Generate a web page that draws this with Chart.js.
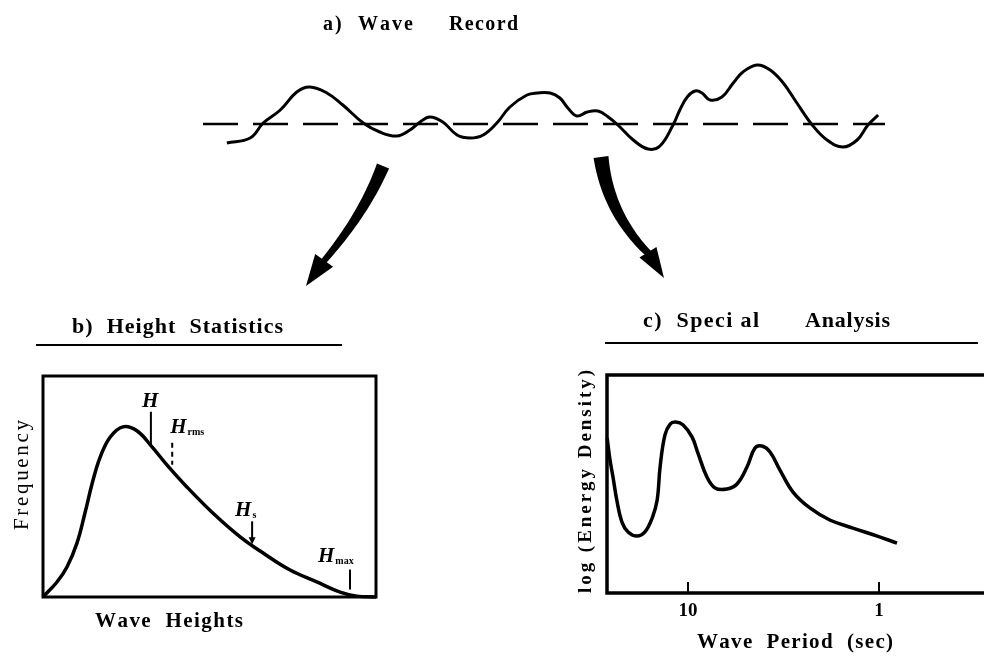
<!DOCTYPE html>
<html>
<head>
<meta charset="utf-8">
<title>Wave record, height statistics and spectral analysis</title>
<script src="https://cdn.jsdelivr.net/npm/chart.js@4/dist/chart.umd.min.js"></script>
<style>
  html, body { margin: 0; padding: 0; background: #fff; overflow: hidden; }
  body { width: 984px; height: 657px; position: relative; }
  canvas { position: absolute; }
  #waveCanvas { left: 0; top: 0; }
  #heightCanvas { left: 0; top: 300px; }
  #spectrumCanvas { left: 560px; top: 300px; }
</style>
</head>
<body>
<canvas id="waveCanvas" width="984" height="300"></canvas>
<canvas id="heightCanvas" width="400" height="340"></canvas>
<canvas id="spectrumCanvas" width="424" height="357"></canvas>
<script>
// a) wave record: time (s) and surface elevation (m)
const waveTime = [4.2, 8.3, 10.6, 13.6, 16.5, 18.8, 21.8, 24.6, 28.2, 31.1, 34.1, 36.4, 38.2, 39.9, 42.2, 44.7, 47.0, 49.3, 51.7, 54.0, 57.0, 58.8, 61.1, 62.8, 64.2, 65.8, 67.6, 69.5, 71.3, 73.0, 75.7, 78.3, 80.4, 82.7, 83.9, 85.2, 86.6, 87.8, 89.2, 91.3, 93.3, 95.0, 97.5, 99.8, 102.1, 104.5, 107.2, 109.8, 112.6, 115.1, 117.0, 118.8];
const waveElevation = [-0.95, -0.70, 0.05, 0.70, 1.60, 1.85, 1.55, 0.95, 0.05, -0.40, -0.60, -0.30, 0.10, 0.35, 0.10, -0.55, -0.70, -0.55, 0.05, 0.85, 1.45, 1.55, 1.55, 1.30, 0.80, 0.40, 0.60, 0.65, 0.35, -0.05, -0.80, -1.25, -1.10, -0.05, 0.70, 1.35, 1.65, 1.55, 1.20, 1.35, 2.05, 2.60, 2.95, 2.70, 2.05, 1.05, -0.05, -0.80, -1.15, -0.80, -0.05, 0.45];
const recordSpan = [0, 120];
const meanLevel = 0;

// b) height statistics: wave height and frequency of occurrence
const waveHeights = [0, 0.21, 0.36, 0.51, 0.63, 0.74, 0.86, 1.01, 1.20, 1.41, 1.64, 1.86, 2.16, 2.55, 2.96, 3.30, 3.71, 4.11, 4.46, 4.71, 5.0];
const heightFrequency = [0, 0.034, 0.068, 0.122, 0.190, 0.258, 0.317, 0.362, 0.385, 0.376, 0.339, 0.299, 0.249, 0.190, 0.136, 0.100, 0.061, 0.034, 0.011, 0.002, 0];
const statNames = ['H', 'H', 'H', 'H'];
const statSubscripts = ['', 'rms', 's', 'max'];
const statHeights = [1.62, 1.94, 3.14, 4.61];

// c) spectral analysis: wave period (s) and log of energy density
const wavePeriod = [26.5, 25.6, 24.7, 23.6, 22.2, 20.6, 18.5, 16.8, 15.4, 14.5, 14.0, 13.2, 12.4, 11.6, 10.6, 9.53, 8.87, 7.96, 7.22, 6.25, 5.54, 4.91, 4.46, 4.10, 3.72, 3.30, 2.82, 2.30, 1.81, 1.37, 1.02, 0.805];
const logEnergy = [7.11, 6.10, 5.32, 4.27, 3.26, 2.80, 2.61, 2.80, 3.44, 4.27, 5.78, 7.25, 7.75, 7.84, 7.71, 7.16, 6.42, 5.32, 4.82, 4.77, 5.00, 5.78, 6.65, 6.74, 6.47, 5.64, 4.63, 3.90, 3.35, 2.98, 2.61, 2.29];
const periodTicks = [10, 1];

const serif = '"Liberation Serif", "DejaVu Serif", serif';

// text stretched between x0 and x1 (the scan has loose letter spacing)
function spacedText(ctx, text, x0, x1, y, font) {
    ctx.save();
    ctx.font = font;
    ctx.fillStyle = '#000';
    ctx.textAlign = 'left';
    ctx.textBaseline = 'alphabetic';
    const chars = [...text];
    const widths = chars.map(c => ctx.measureText(c).width);
    const total = widths.reduce((a, b) => a + b, 0);
    const gap = chars.length > 1 ? ((x1 - x0) - total) / (chars.length - 1) : 0;
    let x = x0;
    chars.forEach((c, i) => {
        ctx.fillText(c, x, y);
        x += widths[i] + gap;
    });
    ctx.restore();
}

// same, reading bottom to top
function spacedTextUp(ctx, text, baseX, yBottom, yTop, font) {
    ctx.save();
    ctx.translate(baseX, yBottom);
    ctx.rotate(-Math.PI / 2);
    spacedText(ctx, text, 0, yBottom - yTop, 0, font);
    ctx.restore();
}

function hLine(ctx, x0, x1, y, w) {
    ctx.save();
    ctx.strokeStyle = '#000';
    ctx.lineWidth = w;
    ctx.beginPath();
    ctx.moveTo(x0, y);
    ctx.lineTo(x1, y);
    ctx.stroke();
    ctx.restore();
}

function drawFrame(chart, sides, w) {
    const { left, top, right, bottom } = chart.chartArea;
    const ctx = chart.ctx;
    ctx.save();
    ctx.strokeStyle = '#000';
    ctx.lineWidth = w;
    ctx.lineCap = 'square';
    ctx.beginPath();
    if (sides.includes('top')) { ctx.moveTo(left, top); ctx.lineTo(right, top); }
    if (sides.includes('right')) { ctx.moveTo(right, top); ctx.lineTo(right, bottom); }
    if (sides.includes('bottom')) { ctx.moveTo(left, bottom); ctx.lineTo(right, bottom); }
    if (sides.includes('left')) { ctx.moveTo(left, top); ctx.lineTo(left, bottom); }
    ctx.stroke();
    ctx.restore();
}

// tapered, slightly bent arrow (quadratic centre line + triangular head)
function drawBentArrow(ctx, a) {
    const n = 30, l = [], r = [];
    for (let i = 0; i <= n; i++) {
        const t = i / n, u = 1 - t;
        const x = u * u * a.start[0] + 2 * u * t * a.ctrl[0] + t * t * a.end[0];
        const y = u * u * a.start[1] + 2 * u * t * a.ctrl[1] + t * t * a.end[1];
        const dx = 2 * u * (a.ctrl[0] - a.start[0]) + 2 * t * (a.end[0] - a.ctrl[0]);
        const dy = 2 * u * (a.ctrl[1] - a.start[1]) + 2 * t * (a.end[1] - a.ctrl[1]);
        const len = Math.hypot(dx, dy);
        const hw = (a.w0 + (a.w1 - a.w0) * t) / 2;
        l.push([x - dy / len * hw, y + dx / len * hw]);
        r.push([x + dy / len * hw, y - dx / len * hw]);
    }
    ctx.save();
    ctx.fillStyle = '#000';
    ctx.beginPath();
    l.forEach((p, i) => i ? ctx.lineTo(p[0], p[1]) : ctx.moveTo(p[0], p[1]));
    r.reverse().forEach(p => ctx.lineTo(p[0], p[1]));
    ctx.closePath();
    ctx.fill();
    const [ex, ey] = a.end, [tx, ty] = a.tip;
    const hl = Math.hypot(tx - ex, ty - ey);
    const ux = (tx - ex) / hl, uy = (ty - ey) / hl;
    ctx.beginPath();
    ctx.moveTo(tx, ty);
    ctx.lineTo(ex - uy * a.head - ux * 2, ey + ux * a.head - uy * 2);
    ctx.lineTo(ex + uy * a.head - ux * 2, ey - ux * a.head - uy * 2);
    ctx.closePath();
    ctx.fill();
    ctx.restore();
}

function frequencyAt(h) {
    for (let i = 1; i < waveHeights.length; i++) {
        if (h <= waveHeights[i]) {
            const t = (h - waveHeights[i - 1]) / (waveHeights[i] - waveHeights[i - 1]);
            return heightFrequency[i - 1] + t * (heightFrequency[i] - heightFrequency[i - 1]);
        }
    }
    return 0;
}

const baseOptions = {
    responsive: false,
    animation: false,
    events: [],
    plugins: { legend: { display: false }, tooltip: { enabled: false } }
};

// ---- a) Wave Record ----
const waveDecor = {
    id: 'waveDecor',
    afterDraw(chart) {
        const ctx = chart.ctx;
        spacedText(ctx, 'a)  Wave', 323, 413, 30, `bold 20px ${serif}`);
        spacedText(ctx, 'Record', 449, 518, 30, `bold 20px ${serif}`);
        drawBentArrow(ctx, { start: [383, 166], ctrl: [364, 214], end: [323, 262], tip: [306, 286], w0: 13, w1: 6, head: 11 });
        drawBentArrow(ctx, { start: [601, 157], ctrl: [608, 214], end: [649, 254], tip: [664, 278], w0: 15, w1: 7, head: 10 });
    }
};

new Chart(document.getElementById('waveCanvas'), {
    type: 'line',
    data: {
        datasets: [
            {
                data: waveTime.map((t, i) => ({ x: t, y: waveElevation[i] })),
                borderColor: '#000',
                borderWidth: 3,
                pointRadius: 0,
                tension: 0.4,
                clip: false
            },
            {
                data: recordSpan.map(t => ({ x: t, y: meanLevel })),
                borderColor: '#000',
                borderWidth: 2.5,
                borderDash: [35, 15],
                pointRadius: 0,
                clip: false
            }
        ]
    },
    options: {
        ...baseOptions,
        layout: { padding: { left: 203, right: 99, top: 54, bottom: 136 }, autoPadding: false },
        scales: {
            x: { type: 'linear', display: false, min: recordSpan[0], max: recordSpan[1] },
            y: { display: false, min: -2, max: 3.5 }
        }
    },
    plugins: [waveDecor]
});

// ---- b) Height Statistics ----
const markerStyle = [
    { top: 34, bottom: 0, dx: -9, gap: 5, dash: [] },
    { top: 28, bottom: 6, dx: -2, gap: 10, dash: [5, 4] },
    { top: 24, bottom: 1, dx: -17, gap: 5, dash: [], arrow: true },
    { top: 25, bottom: 5, dx: -32, gap: 8, dash: [] }
];

const heightDecor = {
    id: 'heightDecor',
    afterDraw(chart) {
        const ctx = chart.ctx;
        const xs = chart.scales.x, ys = chart.scales.y;
        drawFrame(chart, ['top', 'right', 'bottom', 'left'], 3);
        spacedText(ctx, 'b)  Height  Statistics', 72, 283, 33, `bold 22px ${serif}`);
        hLine(ctx, 36, 342, 45, 2);
        spacedTextUp(ctx, 'Frequency', 28, 230, 120, `21px ${serif}`);
        spacedText(ctx, 'Wave  Heights', 95, 243, 327, `bold 21px ${serif}`);

        statHeights.forEach((h, i) => {
            const st = markerStyle[i];
            const px = xs.getPixelForValue(h);
            const cy = ys.getPixelForValue(frequencyAt(h));
            const y0 = cy - st.top, y1 = cy - st.bottom;
            ctx.save();
            ctx.strokeStyle = '#000';
            ctx.fillStyle = '#000';
            ctx.lineWidth = 2;
            ctx.setLineDash(st.dash);
            ctx.beginPath();
            ctx.moveTo(px, y0);
            ctx.lineTo(px, st.arrow ? y1 - 5 : y1);
            ctx.stroke();
            if (st.arrow) {
                ctx.beginPath();
                ctx.moveTo(px - 3.5, y1 - 7);
                ctx.lineTo(px + 3.5, y1 - 7);
                ctx.lineTo(px, y1);
                ctx.closePath();
                ctx.fill();
            }
            ctx.setLineDash([]);
            const by = y0 - st.gap;
            ctx.font = `italic bold 21px ${serif}`;
            ctx.textBaseline = 'alphabetic';
            ctx.fillText(statNames[i], px + st.dx, by);
            const w = ctx.measureText(statNames[i]).width;
            if (statSubscripts[i]) {
                ctx.font = `bold 10px ${serif}`;
                ctx.fillText(statSubscripts[i], px + st.dx + w + 1, by + 2);
            }
            ctx.restore();
        });
    }
};

new Chart(document.getElementById('heightCanvas'), {
    type: 'line',
    data: {
        datasets: [{
            data: waveHeights.map((h, i) => ({ x: h, y: heightFrequency[i] })),
            borderColor: '#000',
            borderWidth: 3.5,
            pointRadius: 0,
            tension: 0.4,
            clip: false
        }]
    },
    options: {
        ...baseOptions,
        layout: { padding: { left: 43, right: 24, top: 76, bottom: 43 }, autoPadding: false },
        scales: {
            x: { type: 'linear', display: false, min: 0, max: 5 },
            y: { display: false, min: 0, max: 0.5 }
        }
    },
    plugins: [heightDecor]
});

// ---- c) Spectral analysis ----
const spectrumDecor = {
    id: 'spectrumDecor',
    afterDraw(chart) {
        const ctx = chart.ctx;
        const xs = chart.scales.x;
        const { bottom } = chart.chartArea;
        drawFrame(chart, ['top', 'bottom', 'left'], 3.5);
        ctx.save();
        ctx.strokeStyle = '#000';
        ctx.lineWidth = 2;
        periodTicks.forEach(p => {
            const px = Math.round(xs.getPixelForValue(p));
            ctx.beginPath();
            ctx.moveTo(px, bottom);
            ctx.lineTo(px, bottom - 11);
            ctx.stroke();
        });
        ctx.restore();
        spacedText(ctx, 'c)  Speci al', 83, 199, 27, `bold 22px ${serif}`);
        spacedText(ctx, 'Analysis', 245, 330, 27, `bold 22px ${serif}`);
        hLine(ctx, 45, 418, 43, 2);
        spacedTextUp(ctx, 'log (Energy Density)', 31, 293, 70, `bold 19px ${serif}`);
        spacedText(ctx, 'Wave  Period  (sec)', 137, 333, 348, `bold 21px ${serif}`);
    }
};

new Chart(document.getElementById('spectrumCanvas'), {
    type: 'line',
    data: {
        datasets: [{
            data: wavePeriod.map((p, i) => ({ x: p, y: logEnergy[i] })),
            borderColor: '#000',
            borderWidth: 3.5,
            pointRadius: 0,
            tension: 0.4,
            clip: false
        }]
    },
    options: {
        ...baseOptions,
        layout: { padding: { left: 47, right: 0, top: 75, bottom: 0 }, autoPadding: false },
        scales: {
            x: {
                type: 'logarithmic',
                reverse: true,
                min: 0.282,
                max: 26.55,
                grid: { display: false, drawTicks: false },
                border: { display: false },
                afterBuildTicks: s => { s.ticks = periodTicks.map(v => ({ value: v })); },
                afterFit: s => { s.height = 64; },
                ticks: {
                    autoSkip: false,
                    maxRotation: 0,
                    padding: 7,
                    color: '#000',
                    font: { family: serif, size: 19, weight: 'bold' },
                    callback: v => String(v)
                }
            },
            y: { display: false, min: 0, max: 10 }
        }
    },
    plugins: [spectrumDecor]
});
</script>
</body>
</html>
